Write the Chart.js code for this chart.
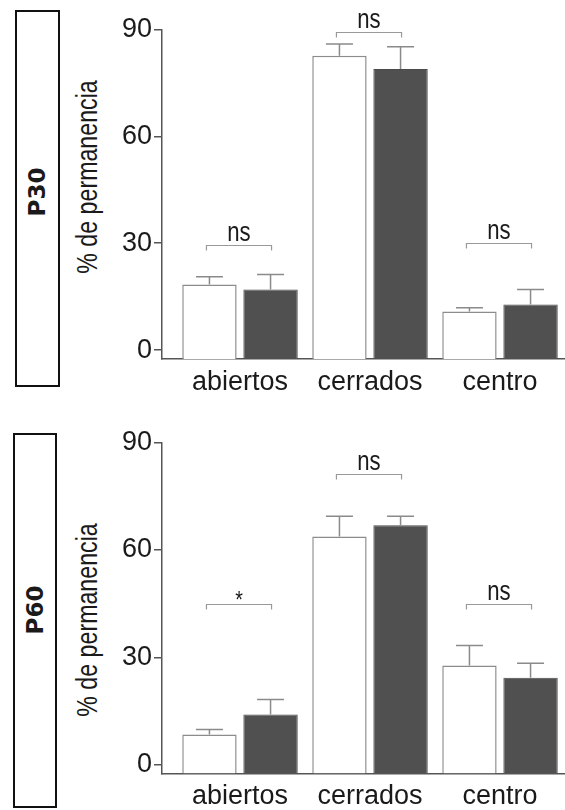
<!DOCTYPE html>
<html>
<head>
<meta charset="utf-8">
<script src="https://cdn.jsdelivr.net/npm/chart.js@4.4.1/dist/chart.umd.min.js"></script>
<style>
  body { margin: 0; width: 565px; height: 810px; position: relative; overflow: hidden; background: #fff;
         font-family: 'Liberation Sans', Arial, sans-serif; }
  canvas { position: absolute; left: 0; }
  .age { position: absolute; border: 2px solid #111; box-sizing: border-box; }
  .rot { position: absolute; white-space: nowrap; color: #1a1a1a; }
  .age-label { font: bold 23px 'DejaVu Sans', sans-serif; transform: translate(-50%, -50%) rotate(-90deg); }
  .ytitle { font-size: 29px; line-height: 1; transform: translate(-50%, -50%) rotate(-90deg) scaleX(0.8); }
</style>
</head>
<body>
<div class="age" style="left:15px;top:10px;width:45px;height:377px"></div>
<div class="rot age-label" style="left:37px;top:192px">P30</div>
<div class="rot ytitle" style="left:87px;top:177px">% de permanencia</div>
<canvas id="chartP30" width="565" height="405" style="top:0"></canvas>

<div class="age" style="left:13px;top:433px;width:44px;height:375px"></div>
<div class="rot age-label" style="left:35px;top:610px">P60</div>
<div class="rot ytitle" style="left:87px;top:620px">% de permanencia</div>
<canvas id="chartP60" width="565" height="405" style="top:405px"></canvas>

<script>
'use strict';

const categories = ['abiertos', 'cerrados', 'centro'];
const yTicks = [0, 30, 60, 90];

// P30
const p30White = [18.4, 82.6, 10.8];
const p30WhiteErr = [2.2, 3.3, 1.1];
const p30Dark = [17.0, 78.9, 12.8];
const p30DarkErr = [4.2, 6.2, 4.2];
const p30Marks = ['ns', 'ns', 'ns'];
const p30MarkLevel = [29.6, 89.3, 30.1];

// P60
const p60White = [8.4, 63.8, 27.7];
const p60WhiteErr = [1.4, 5.6, 5.6];
const p60Dark = [14.0, 66.9, 24.3];
const p60DarkErr = [4.2, 2.5, 4.0];
const p60Marks = ['*', 'ns', 'ns'];
const p60MarkLevel = [44.8, 81.2, 44.8];

const FONT = "'Liberation Sans', Arial, sans-serif";
const AXIS_MIN = -2.5;

function toPoints(values) {
  return values.map((v, i) => ({x: i + 1, y: v}));
}

// narrow text: plain Liberation Sans squeezed horizontally
function narrowText(ctx, text, x, y, size) {
  ctx.save();
  ctx.translate(x, y);
  ctx.scale(0.82, 1);
  ctx.font = size + 'px ' + FONT;
  ctx.fillText(text, 0, 0);
  ctx.restore();
}

function extrasPlugin(errors, marks, markLevels) {
  return {
    id: 'extras',
    afterDatasetsDraw(chart) {
      const ctx = chart.ctx;
      const yScale = chart.scales.y;
      ctx.save();

      // error bars, upper side only
      ctx.strokeStyle = '#8a8a8a';
      ctx.lineWidth = 1.5;
      chart.data.datasets.forEach((ds, d) => {
        chart.getDatasetMeta(d).data.forEach((bar, i) => {
          const top = yScale.getPixelForValue(ds.data[i].y + errors[d][i]);
          ctx.beginPath();
          ctx.moveTo(bar.x, bar.y);
          ctx.lineTo(bar.x, top);
          ctx.moveTo(bar.x - 13.5, top);
          ctx.lineTo(bar.x + 13.5, top);
          ctx.stroke();
        });
      });

      // significance brackets
      const leftBars = chart.getDatasetMeta(0).data;
      const rightBars = chart.getDatasetMeta(1).data;
      ctx.strokeStyle = '#999';
      ctx.lineWidth = 1.2;
      ctx.fillStyle = '#1a1a1a';
      ctx.textAlign = 'center';
      ctx.textBaseline = 'alphabetic';
      marks.forEach((m, i) => {
        const y = Math.round(yScale.getPixelForValue(markLevels[i])) + 0.5;
        const x0 = leftBars[i].x - 3;
        const x1 = rightBars[i].x + 1;
        ctx.beginPath();
        ctx.moveTo(x0, y + 5);
        ctx.lineTo(x0, y);
        ctx.lineTo(x1, y);
        ctx.lineTo(x1, y + 5);
        ctx.stroke();
        if (m === '*') {
          narrowText(ctx, m, (x0 + x1) / 2, y + 3, 24);
        } else {
          narrowText(ctx, m, (x0 + x1) / 2, y - 5, 27);
        }
      });
      ctx.restore();
    }
  };
}

function buildChart(canvasId, white, dark, errors, marks, markLevels, padTop, xHeight) {
  const ctx = document.getElementById(canvasId).getContext('2d');
  return new Chart(ctx, {
    type: 'bar',
    data: {
      datasets: [{
        label: 'grupo 1',
        data: toPoints(white),
        backgroundColor: '#ffffff',
        borderColor: '#8c8c8c',
        borderWidth: 1.5,
        base: AXIS_MIN
      }, {
        label: 'grupo 2',
        data: toPoints(dark),
        backgroundColor: '#505050',
        borderColor: '#4a4a4a',
        borderWidth: 1,
        base: AXIS_MIN
      }]
    },
    options: {
      responsive: false,
      devicePixelRatio: 1,
      animation: false,
      events: [],
      categoryPercentage: 0.94,
      barPercentage: 0.89,
      layout: { padding: { top: padTop, left: 0, right: 0, bottom: 0 } },
      plugins: { legend: { display: false }, tooltip: { enabled: false } },
      scales: {
        x: {
          type: 'linear',
          min: 0.4,
          max: 3.5,
          offset: false,
          afterBuildTicks: s => { s.ticks = categories.map((c, i) => ({value: i + 1})); },
          afterFit: s => { s.height = xHeight; },
          grid: { display: false, drawTicks: false },
          border: { display: true, color: '#555', width: 1.5 },
          ticks: {
            callback: v => categories[v - 1],
            color: '#1a1a1a',
            padding: 7,
            maxRotation: 0,
            font: { family: FONT, size: 27 }
          }
        },
        y: {
          min: AXIS_MIN,
          max: 90,
          afterBuildTicks: s => { s.ticks = yTicks.map(v => ({value: v})); },
          afterFit: s => { s.width = 162; },
          grid: { drawOnChartArea: false, drawTicks: true, tickLength: 8, color: '#555', lineWidth: 1.5 },
          border: { display: true, color: '#555', width: 1.5 },
          ticks: {
            color: '#1a1a1a',
            padding: 2,
            font: { family: FONT, size: 27 }
          }
        }
      }
    },
    plugins: [extrasPlugin(errors, marks, markLevels)]
  });
}

buildChart('chartP30', p30White, p30Dark, [p30WhiteErr, p30DarkErr], p30Marks, p30MarkLevel, 29.4, 46);
buildChart('chartP60', p60White, p60Dark, [p60WhiteErr, p60DarkErr], p60Marks, p60MarkLevel, 37.7, 36.5);
</script>
</body>
</html>
